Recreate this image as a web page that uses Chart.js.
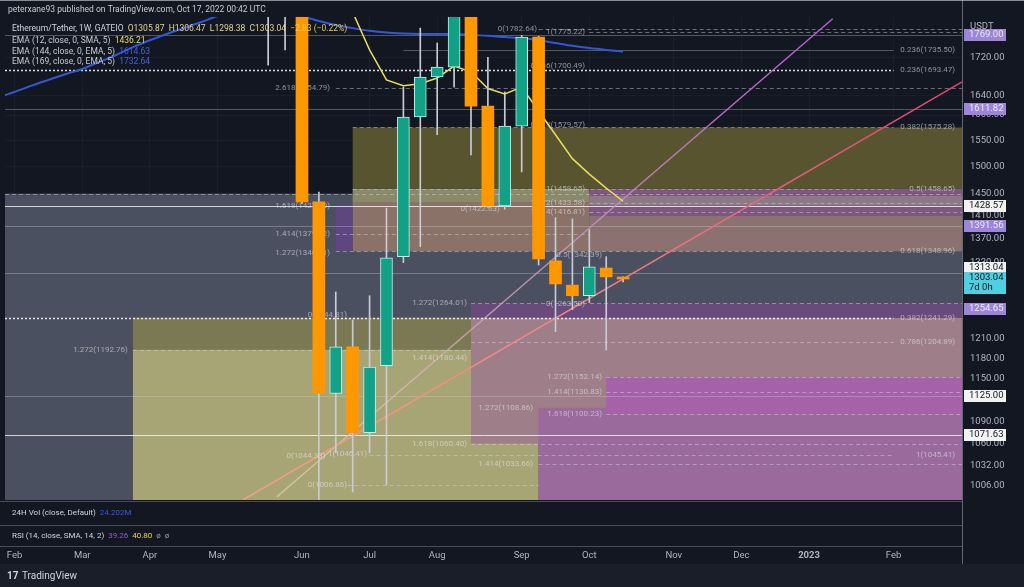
<!DOCTYPE html>
<html lang="en">
<head>
  <meta charset="UTF-8">
  <title>Ethereum/Tether 1W</title>
  <script src="https://cdn.jsdelivr.net/npm/chart.js"></script>
  <style>
    html, body { margin: 0; padding: 0; background: #131722; }
    canvas { display: block; }
  </style>
</head>
<body>
  <canvas id="chartEth" width="1024" height="587"></canvas>
  <script>
    // axis ranges (week index 0 = week of 6 Jun 2022)
    const X_MIN = -17.57, X_MAX = 39.05;
    const Y_MIN = 988, Y_MAX = 1809;

    // weekly candles
    const weeks  = [-2, -1, 0, 1, 2, 3, 4, 5, 6, 7, 8, 9, 10, 11, 12, 13, 14, 15, 16, 17, 18, 19];
    const opens  = [2030, 1900, 1850, 1435, 1129, 1197, 1075, 1169, 1340, 1596, 1678, 1699, 1935, 1618, 1428, 1578, 1764, 1333, 1293, 1276, 1321, 1305.87];
    const highs  = [2050, 1960, 1900, 1453, 1282, 1238, 1276, 1424, 1657, 1784, 1751, 2030, 2020, 1720, 1647, 1768, 1766, 1407, 1405, 1386, 1340, 1306.47];
    const lows   = [1703, 1736, 1432, 880, 1048, 998, 1048, 1007, 1330, 1357, 1561, 1657, 1522, 1425, 1422, 1490, 1326, 1220, 1254, 1265, 1192, 1298.38];
    const closes = [1900, 1850, 1435, 1129.5, 1197, 1075, 1167, 1338, 1596, 1678, 1699, 1935, 1618, 1428, 1578, 1764, 1336, 1295, 1276, 1323, 1306.5, 1303.04];

    // moving averages
    const ema12Weeks = [1, 2, 3, 4, 5, 6, 7, 8, 9, 10, 11, 12, 13, 14, 15, 16, 17, 18, 19];
    const ema12 = [1960, 1890, 1820, 1736, 1672, 1660, 1664, 1676, 1701, 1689, 1654, 1643, 1657, 1608, 1561, 1515, 1486, 1460, 1436.21];
    const ema169Weeks = [-18, -17, -16, -15, -14, -13, -12, -11, -10, -9, -8, -7, -6, -5, -4, -3, -2, -1, 0, 1, 2, 3, 4, 5, 6, 7, 8, 9, 10, 11, 12, 13, 14, 15, 16, 17, 18, 19];
    const ema169 = [1635, 1647, 1660, 1672, 1684, 1695, 1710, 1725, 1742, 1757, 1771, 1784, 1797, 1811, 1822, 1829, 1830, 1822, 1811, 1800, 1791, 1784, 1778, 1774, 1772, 1771, 1771, 1771, 1769, 1767, 1764, 1762, 1757, 1751, 1745, 1740, 1736, 1732.64];
    const ema144Last = 1614.63;

    // axis ticks
    const monthTickWeeks  = [-17, -13, -9, -5, 0, 4, 8, 13, 17, 22, 26, 30, 35];
    const monthTickLabels = ['Feb', 'Mar', 'Apr', 'May', 'Jun', 'Jul', 'Aug', 'Sep', 'Oct', 'Nov', 'Dec', '2023', 'Feb'];
    const priceTicks = [1006, 1032, 1060, 1090, 1150, 1180, 1210, 1330, 1370, 1410, 1450, 1500, 1550, 1600, 1640, 1720];

    // shaded fib zones (weeks / prices)
    const zoneFrom   = [X_MIN, -10, -10, 10, 10, 14, 18, 3, 3, 3, 17, 17, 17, 2];
    const zoneTo     = [X_MAX, 14, 14, X_MAX, X_MAX, X_MAX, X_MAX, X_MAX, 17, 17, X_MAX, X_MAX, X_MAX, 3];
    const zoneTop    = [1450, 1241.29, 1192.76, 1241.29, 1264.01, 1108.86, 1152.14, 1575.28, 1458.65, 1433.58, 1458.65, 1446, 1410, 1428.57];
    const zoneBottom = [Y_MIN, 1192.76, Y_MIN, 1060.40, 1241.29, Y_MIN, 1100.23, 1458.65, 1433.58, 1348.96, 1410, 1428.57, 1348.96, 1348.96];
    const zoneColors = ['#4b5060', '#7b7854', '#a7a476', '#9d7e89', '#6a4a7c', '#9a6a9c', '#a562a9',
                        '#57542f', '#8a896a', '#8a7268', '#7d577e', '#8b7a83', '#8b7271', '#5e4680'];

    // horizontal levels
    const levelPrice = [1782.64, 1775.22, 1769.00, 1735.50, 1693.47, 1654.79, 1611.82, 1575.28, 1458.65, 1450.00,
                        1433.58, 1428.57, 1416.81, 1391.56, 1379.12, 1348.96, 1313.04, 1264.01, 1241.29, 1204.89,
                        1192.76, 1152.14, 1130.83, 1125.00, 1100.23, 1071.63, 1060.40, 1045.41, 1033.66, 1006.86];
    const levelFrom  = [14, 17, X_MIN, 6, X_MIN, 2, X_MIN, 3, 3, X_MIN, 17, X_MIN, 17, X_MIN, 2, 2, X_MIN, 10, X_MIN, 10,
                        -10, 18, 18, X_MIN, 18, X_MIN, 10, 4, 14, 2.7];
    const levelTo    = [X_MAX, X_MAX, X_MAX, 35, 35, X_MAX, X_MAX, 35, 35, X_MAX, X_MAX, X_MAX, X_MAX, X_MAX, 17, 35, X_MAX, X_MAX, 35, 35,
                        10, X_MAX, X_MAX, X_MAX, X_MAX, X_MAX, X_MAX, 35, X_MAX, 14];
    const levelStyle = ['dash', 'dash', 'line', 'line', 'dot', 'dash', 'line', 'dash', 'dash', 'dash',
                        'dash', 'white', 'dash', 'line', 'dash', 'dash', 'line', 'dash', 'dot', 'dash',
                        'dash', 'dash', 'dash', 'line', 'dash', 'white', 'dash', 'dash', 'dash', 'dash'];

    // fib labels (right end at week, price)
    const fibText  = ['0(1782.64)', '1(1775.22)', '0.236(1735.50)', '0.236(1693.47)', '0.786(1700.49)', '2.618(1654.79)',
                      '0.618(1579.57)', '0.382(1575.28)', '1(1458.65)', '0.5(1458.65)', '1.272(1433.58)', '1.618(1427.30)',
                      '0(1422.63)', '1.414(1416.81)', '1.414(1379.12)', '1.272(1346.71)', '0.618(1348.96)', '0.5(1342.39)',
                      '1.272(1264.01)', '0(1263.50)', '0(1244.81)', '0.382(1241.29)', '0.786(1204.89)', '1.272(1192.76)',
                      '1.414(1180.44)', '1.272(1152.14)', '1.414(1130.83)', '1.272(1108.86)', '1.618(1100.23)', '1.618(1060.40)',
                      '0(1044.33)', '1(1046.41)', '1.414(1033.66)', '1(1045.41)', '0(1006.86)'];
    const fibWeek  = [13.9, 16.75, 38.64, 38.64, 16.75, 1.66, 16.75, 38.64, 16.75, 38.64, 16.75, 1.66,
                      11.7, 16.75, 1.66, 1.66, 38.64, 17.75, 9.76, 16.75, 2.66, 38.64, 38.64, -10.3,
                      9.76, 17.75, 17.75, 13.67, 17.75, 9.76, 1.4, 3.85, 13.67, 38.64, 2.66];
    const fibPrice = [1782.64, 1775.22, 1735.50, 1693.47, 1700.49, 1654.79, 1579.57, 1575.28, 1458.65, 1458.65, 1433.58, 1427.30,
                      1422.63, 1416.81, 1379.12, 1346.71, 1348.96, 1342.39, 1264.01, 1263.50, 1244.81, 1241.29, 1204.89, 1192.76,
                      1180.44, 1152.14, 1130.83, 1108.86, 1100.23, 1060.40, 1044.33, 1046.41, 1033.66, 1045.41, 1006.86];

    // trend lines
    const trendFromWeek  = [-1.48, -3.5];
    const trendFromPrice = [992, 988];
    const trendToWeek    = [31.4, 39.05];
    const trendToPrice   = [1805, 1668];

    // price tags on the right axis
    const tagPrice = [1769.00, 1611.82, 1428.57, 1391.56, 1313.04, 1303.04, 1254.65, 1125.00, 1071.63];
    const tagKind  = ['purple', 'purple', 'white', 'purple', 'white', 'cyan', 'purple', 'white', 'white'];

    const FONT = 'Roboto, "Noto Sans", sans-serif';
    const isUp = k => closes[k] >= opens[k];

    const drawingsPlugin = {
      id: 'drawings',
      beforeDatasetsDraw(chart) {
        const { ctx, chartArea: a, scales: { x, y } } = chart;
        ctx.save();
        ctx.beginPath();
        ctx.rect(a.left, a.top, a.right - a.left, a.bottom - a.top);
        ctx.clip();

        // zones
        zoneFrom.forEach((w0, k) => {
          const x0 = x.getPixelForValue(w0), x1 = x.getPixelForValue(zoneTo[k]);
          const y0 = y.getPixelForValue(zoneTop[k]), y1 = y.getPixelForValue(zoneBottom[k]);
          ctx.fillStyle = zoneColors[k];
          ctx.fillRect(x0, y0, x1 - x0, y1 - y0);
        });

        // levels
        levelPrice.forEach((p, k) => {
          const py = Math.round(y.getPixelForValue(p)) + 0.5;
          const st = levelStyle[k];
          ctx.lineWidth = 1;
          ctx.setLineDash([]);
          if (st === 'dash') { ctx.strokeStyle = 'rgba(215,217,225,0.45)'; ctx.setLineDash([4, 3]); }
          else if (st === 'dot') { ctx.strokeStyle = 'rgba(255,255,255,0.85)'; ctx.lineWidth = 1.5; ctx.setLineDash([2, 2]); }
          else if (st === 'white') { ctx.strokeStyle = 'rgba(255,255,255,0.75)'; }
          else { ctx.strokeStyle = 'rgba(200,203,212,0.35)'; }
          ctx.beginPath();
          ctx.moveTo(x.getPixelForValue(levelFrom[k]), py);
          ctx.lineTo(x.getPixelForValue(levelTo[k]), py);
          ctx.stroke();
        });
        ctx.setLineDash([]);

        // trend lines
        const trendStops = [
          [[0, 'rgba(228,210,165,0.75)'], [0.5, 'rgba(205,150,190,0.85)'], [1, '#b35bd0']],
          [[0, '#efa47e'], [0.5, '#ee7f86'], [1, '#e2406e']]
        ];
        trendFromWeek.forEach((w0, k) => {
          const x0 = x.getPixelForValue(w0), y0 = y.getPixelForValue(trendFromPrice[k]);
          const x1 = x.getPixelForValue(trendToWeek[k]), y1 = y.getPixelForValue(trendToPrice[k]);
          const g = ctx.createLinearGradient(x0, y0, x1, y1);
          trendStops[k].forEach(s => g.addColorStop(s[0], s[1]));
          ctx.strokeStyle = g;
          ctx.lineWidth = 1.5;
          ctx.beginPath();
          ctx.moveTo(x0, y0);
          ctx.lineTo(x1, y1);
          ctx.stroke();
        });

        // fib labels
        ctx.font = '8px ' + FONT;
        ctx.textAlign = 'right';
        ctx.textBaseline = 'middle';
        ctx.fillStyle = 'rgba(235,236,242,0.55)';
        fibText.forEach((t, k) => {
          ctx.fillText(t, x.getPixelForValue(fibWeek[k]), y.getPixelForValue(fibPrice[k]));
        });
        ctx.restore();
      }
    };

    const chromePlugin = {
      id: 'chrome',
      beforeDraw(chart) {
        const ctx = chart.ctx;
        ctx.save();
        ctx.fillStyle = '#131722';
        ctx.fillRect(0, 0, 1024, 587);
        ctx.fillStyle = '#1a1e29';
        ctx.fillRect(0, 564, 1024, 23);
        ctx.restore();
      },
      afterDraw(chart) {
        const { ctx, chartArea: a, scales: { y } } = chart;
        ctx.save();

        // pane separators
        ctx.strokeStyle = '#4a4d58';
        ctx.lineWidth = 1;
        [501.5, 525.5, 546.5].forEach(py => {
          ctx.beginPath(); ctx.moveTo(0, py); ctx.lineTo(a.right, py); ctx.stroke();
        });
        ctx.strokeStyle = 'rgba(200,203,212,0.45)';
        ctx.beginPath(); ctx.moveTo(a.right + 0.5, 0); ctx.lineTo(a.right + 0.5, 564); ctx.stroke();
        ctx.strokeStyle = 'rgba(220,220,225,0.6)';
        ctx.beginPath(); ctx.moveTo(0, 0.5); ctx.lineTo(1024, 0.5); ctx.stroke();

        const seg = (parts, x0, y0, size) => {
          ctx.font = size + 'px ' + FONT;
          let xx = x0;
          parts.forEach(([t, c]) => { ctx.fillStyle = c; ctx.fillText(t, xx, y0); xx += ctx.measureText(t).width; });
        };
        ctx.textAlign = 'left';
        ctx.textBaseline = 'middle';

        // header + legend
        seg([['peterxane93 published on TradingView.com, Oct 17, 2022 00:42 UTC', '#c9cbd1']], 8, 10, 8.5);
        const n = closes.length - 1;
        const chg = closes[n] - opens[n];
        seg([['Ethereum/Tether, 1W, GATEIO  ', '#d1d4dc'],
             ['O' + opens[n].toFixed(2) + '  H' + highs[n].toFixed(2) + '  L' + lows[n].toFixed(2) + '  C' + closes[n].toFixed(2) + '  ', '#e4d68e'],
             ['\u2212' + Math.abs(chg).toFixed(2) + ' (\u2212' + Math.abs(chg / opens[n] * 100).toFixed(2) + '%)', '#e9c94a']], 12, 29, 8.5);
        seg([['EMA (12, close, 0, SMA, 5)  ', '#c9cbd1'], [ema12[ema12.length - 1].toFixed(2), '#e9dc5f']], 12, 41, 8.5);
        seg([['EMA (144, close, 0, EMA, 5)  ', '#c9cbd1'], [ema144Last.toFixed(2), '#3f63e0']], 12, 52, 8.5);
        seg([['EMA (169, close, 0, EMA, 5)  ', '#c9cbd1'], [ema169[ema169.length - 1].toFixed(2), '#3f63e0']], 12, 62, 8.5);

        // lower panes
        seg([['24H Vol (close, Default)  ', '#d1d4dc'], ['24.202M', '#2f5bea']], 12, 513, 8);
        seg([['RSI (14, close, SMA, 14, 2)  ', '#d1d4dc'], ['39.26', '#8f5fd0'], ['  ', '#d1d4dc'], ['40.80', '#f2d24a'], ['  \u00f8  \u00f8', '#9598a1']], 12, 536, 8);

        // footer
        ctx.font = 'bold 10px ' + FONT;
        ctx.fillStyle = '#d1d4dc';
        ctx.fillText('17', 7, 576);
        seg([['TradingView', '#d1d4dc']], 22, 576, 10);

        // axis currency
        seg([['USDT', '#b2b5be']], 970, 27, 9.5);

        // price tags
        ctx.font = '9.5px ' + FONT;
        tagPrice.forEach((p, k) => {
          let py = y.getPixelForValue(p);
          const kind = tagKind[k];
          let bg = '#9d86d8', fg = '#ece6ff', h = 12;
          if (kind === 'white') { bg = '#f2f2f2'; fg = '#131722'; }
          if (kind === 'cyan') { bg = '#4fd0e0'; fg = '#131722'; h = 22; }
          if (p === 1313.04) py -= 5;
          const top = kind === 'cyan' ? py - 7 : py - h / 2;
          ctx.fillStyle = bg;
          ctx.fillRect(964, Math.round(top), 42, h);
          ctx.fillStyle = fg;
          ctx.fillText(p.toFixed(2), 969, Math.round(top) + 6);
          if (kind === 'cyan') ctx.fillText('7d 0h', 969, Math.round(top) + 16);
        });
        ctx.restore();
      }
    };

    new Chart(document.getElementById('chartEth'), {
      type: 'bar',
      data: {
        datasets: [
          {
            type: 'bar',
            label: 'body',
            data: weeks.map((w, k) => ({ x: w, y: [opens[k], closes[k]] })),
            backgroundColor: weeks.map((w, k) => isUp(k) ? '#12a086' : '#ff9800'),
            borderColor: weeks.map((w, k) => isUp(k) ? '#bdf2e9' : '#ff9800'),
            borderWidth: weeks.map((w, k) => isUp(k) ? 1 : 0),
            borderSkipped: false,
            barThickness: 12,
            minBarLength: 2,
            grouped: false,
            order: 0
          },
          {
            type: 'bar',
            label: 'wick',
            data: weeks.map((w, k) => ({ x: w, y: [lows[k], highs[k]] })),
            backgroundColor: '#c9ccd4',
            barThickness: 1,
            grouped: false,
            order: 1
          },
          {
            type: 'line',
            label: 'EMA 12',
            data: ema12Weeks.map((w, k) => ({ x: w, y: ema12[k] })),
            borderColor: '#e9dc5f',
            borderWidth: 1.5,
            pointRadius: 0,
            tension: 0,
            order: 2
          },
          {
            type: 'line',
            label: 'EMA 169',
            data: ema169Weeks.map((w, k) => ({ x: w, y: ema169[k] })),
            borderColor: '#3457d5',
            borderWidth: 2,
            pointRadius: 0,
            tension: 0.3,
            order: 2
          }
        ]
      },
      options: {
        responsive: false,
        animation: false,
        layout: { padding: { left: 5, top: 17, right: 0, bottom: 23 } },
        plugins: { legend: { display: false }, tooltip: { enabled: false } },
        scales: {
          x: {
            type: 'linear',
            min: X_MIN,
            max: X_MAX,
            offset: false,
            border: { display: false },
            grid: { offset: false, drawTicks: true, tickLength: 47, tickColor: 'rgba(0,0,0,0)', color: 'rgba(255,255,255,0.03)' },
            afterBuildTicks: s => { s.ticks = monthTickWeeks.map(v => ({ value: v })); },
            afterFit: s => { s.height = 64; },
            ticks: {
              autoSkip: false,
              maxRotation: 0,
              padding: 3,
              color: '#b2b5be',
              font: c => ({ family: FONT, size: 9.5, weight: c.index === 11 ? 'bold' : 'normal' }),
              callback: (v, i) => monthTickLabels[i]
            }
          },
          y: {
            type: 'logarithmic',
            position: 'right',
            min: Y_MIN,
            max: Y_MAX,
            border: { display: false },
            grid: { drawTicks: false, color: 'rgba(255,255,255,0.03)' },
            afterBuildTicks: s => { s.ticks = priceTicks.map(v => ({ value: v })); },
            afterFit: s => { s.width = 62; },
            ticks: {
              padding: 8,
              color: '#b2b5be',
              font: { family: FONT, size: 9.5 },
              callback: v => Number(v).toFixed(2)
            }
          }
        }
      },
      plugins: [drawingsPlugin, chromePlugin]
    });
  </script>
</body>
</html>
